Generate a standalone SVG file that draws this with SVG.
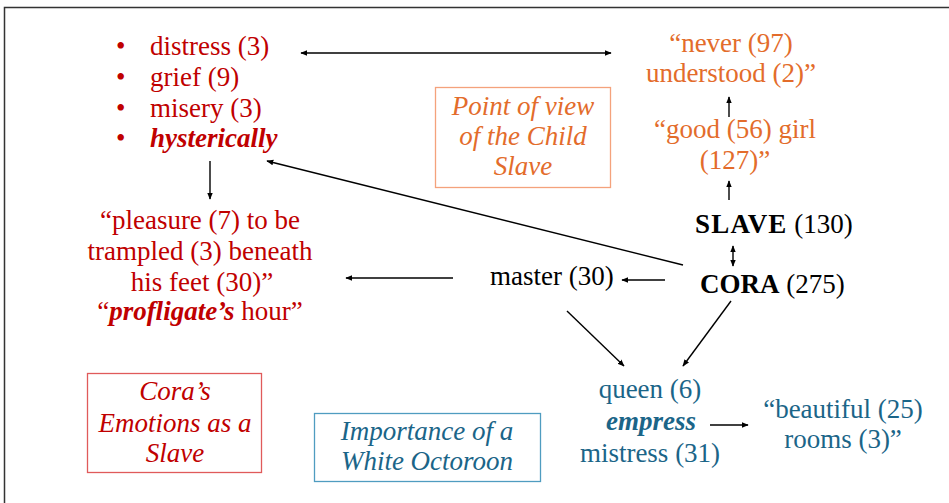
<svg xmlns="http://www.w3.org/2000/svg" width="949" height="503" viewBox="0 0 949 503">
<defs>
<marker id="ah" viewBox="0 0 10 10" refX="9" refY="5" markerWidth="7" markerHeight="7" orient="auto-start-reverse" markerUnits="userSpaceOnUse">
<path d="M0,1 L10,5 L0,9 z" fill="#000"/>
</marker>
<style>
text{font-family:'Liberation Serif',serif;font-size:27px}
.red{fill:#C00000}
.org{fill:#E36C2B}
.blu{fill:#1B6588}
.blk{fill:#000}
.mid{text-anchor:middle}
.bi{font-weight:bold;font-style:italic}
.it{font-style:italic}
.b{font-weight:bold}
.box{fill:#fff;stroke-width:1.3}
.conn line{stroke:#000;stroke-width:1.4;marker-end:url(#ah)}
</style>
</defs>
<rect x="4.5" y="7.5" width="960" height="510" fill="#fff" stroke="#333" stroke-width="1.5"/>

<g id="emotions-list">
<text x="116" y="55" class="red">•</text><text x="150" y="55" class="red">distress (3)</text>
<text x="116" y="86" class="red">•</text><text x="150" y="86" class="red">grief (9)</text>
<text x="116" y="117" class="red">•</text><text x="150" y="117" class="red">misery (3)</text>
<text x="116" y="147" class="red">•</text><text x="150" y="147" class="red bi">hysterically</text>
</g>

<g id="pleasure">
<text x="200" y="229" class="red mid">“pleasure (7) to be</text>
<text x="200" y="260" class="red mid">trampled (3) beneath</text>
<text x="202" y="291" class="red mid">his feet (30)”</text>
<text x="200" y="320" class="red mid">“<tspan class="bi">profligate’s</tspan> hour”</text>
</g>

<g id="never">
<text x="731" y="52" class="org mid">“never (97)</text>
<text x="731" y="82" class="org mid">understood (2)”</text>
</g>

<g id="good-girl">
<text x="735" y="138" class="org mid">“good (56) girl</text>
<text x="735" y="169" class="org mid">(127)”</text>
</g>

<g id="slave">
<text x="695" y="233" class="blk"><tspan class="b" letter-spacing="1.2">SLAVE</tspan> (130)</text>
</g>

<g id="cora">
<text x="700" y="293" class="blk"><tspan class="b">CORA</tspan> (275)</text>
</g>

<g id="master">
<text x="490" y="285" class="blk">master (30)</text>
</g>

<g id="queen">
<text x="650" y="398" class="blu mid">queen (6)</text>
<text x="651" y="430" class="blu mid bi">empress</text>
<text x="650" y="462" class="blu mid">mistress (31)</text>
</g>

<g id="beautiful">
<text x="843" y="418" class="blu mid">“beautiful (25)</text>
<text x="843" y="448" class="blu mid">rooms (3)”</text>
</g>

<g id="box-child">
<rect x="435.5" y="87.5" width="175" height="100" class="box" stroke="#F4A27C"/>
<text x="523" y="115" class="org mid it">Point of view</text>
<text x="523" y="145" class="org mid it">of the Child</text>
<text x="523" y="175" class="org mid it">Slave</text>
</g>

<g id="box-emotions">
<rect x="87.5" y="373.5" width="174" height="99" class="box" stroke="#E05A5A"/>
<text x="175" y="400" class="red mid it">Cora’s</text>
<text x="175" y="432" class="red mid it">Emotions as a</text>
<text x="175" y="462" class="red mid it">Slave</text>
</g>

<g id="box-octoroon">
<rect x="314.5" y="413.5" width="226" height="68" class="box" stroke="#4F9CC0"/>
<text x="427" y="440" class="blu mid it">Importance of a</text>
<text x="427" y="470" class="blu mid it">White Octoroon</text>
</g>

<g class="conn" id="connectors">
<line x1="301" y1="53" x2="611" y2="53" marker-start="url(#ah)"/>
<line x1="210" y1="161" x2="210" y2="199"/>
<line x1="729" y1="117" x2="729" y2="97"/>
<line x1="729" y1="200" x2="729" y2="181"/>
<line x1="733" y1="246" x2="733" y2="266" marker-start="url(#ah)"/>
<line x1="683" y1="265" x2="267" y2="161"/>
<line x1="665" y1="280" x2="622" y2="280"/>
<line x1="453" y1="278" x2="346" y2="278"/>
<line x1="567" y1="311" x2="624" y2="366"/>
<line x1="731" y1="301" x2="683" y2="366"/>
<line x1="710" y1="425" x2="748" y2="425"/>
</g>
</svg>
